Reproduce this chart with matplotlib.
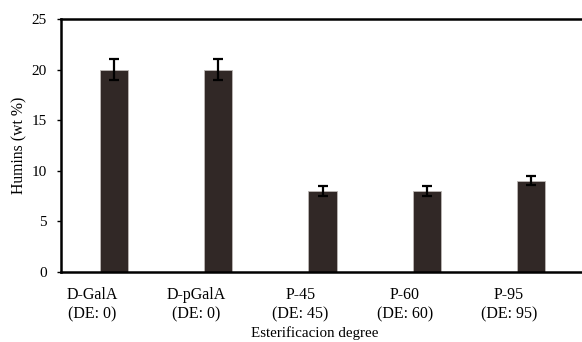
import matplotlib.pyplot as plt

plt.rcParams['font.family'] = ['Liberation Serif', 'DejaVu Serif']

samples = ["D-GalA\n(DE: 0)", "D-pGalA\n(DE: 0)", "P-45\n(DE: 45)", "P-60\n(DE: 60)", "P-95\n(DE: 95)"]
humins = [20, 20, 8, 8, 9]
errors = [1.0, 1.0, 0.45, 0.45, 0.45]

fig = plt.figure(figsize=(5.82, 3.42), dpi=100)
ax = fig.add_axes([61 / 582, 70 / 342, 1 - 61 / 582, 253 / 342])

# bars sit a little right of the category label, like the Excel original
x = list(range(len(samples)))
bar_x = [i + 0.21 for i in x]
ax.bar(bar_x, humins, width=0.27, color="#312826", edgecolor="#bdb8b5", linewidth=0.6,
       yerr=errors, capsize=3.4, error_kw=dict(ecolor="black", elinewidth=1.6, capthick=1.6))

ax.set_xlim(-0.3, 4.7)
ax.set_ylim(0, 25)
ax.set_yticks([0, 5, 10, 15, 20, 25])
ax.set_xticks(x)
ax.set_xticklabels(samples, fontsize=11.5, linespacing=1.3)
ax.tick_params(axis="x", length=0, pad=11)
ax.tick_params(axis="y", length=3, width=1, labelsize=11, pad=7)

for side in ["left", "top", "bottom"]:
    ax.spines[side].set_linewidth(1.8)
ax.spines["right"].set_visible(False)

ax.set_ylabel("Humins (wt %)", fontsize=11.3, labelpad=3)
ax.set_xlabel("Esterificacion degree", fontsize=10.8, va="center")
ax.xaxis.set_label_coords(0.4875, -0.243)

fig.savefig("out.png", dpi=100)
